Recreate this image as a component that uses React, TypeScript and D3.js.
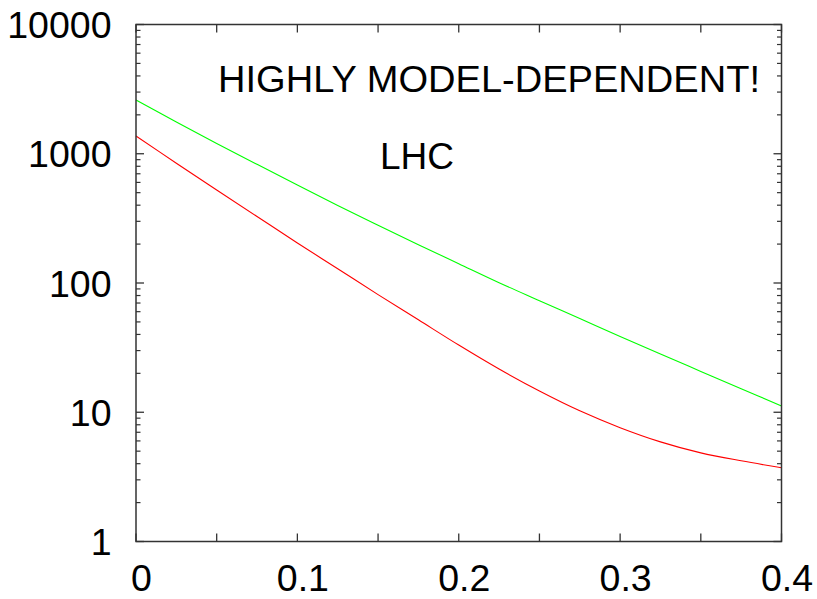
import React from "react";
import * as d3 from "d3";

const xValues = [0, 0.025, 0.05, 0.075, 0.1, 0.125, 0.15, 0.175, 0.2, 0.225, 0.25, 0.275, 0.3, 0.325, 0.35, 0.375, 0.4];
const greenValues = [2606, 1762, 1202, 828, 573, 398, 280, 198, 141, 100.5, 73.0, 53.1, 38.6, 28.2, 20.7, 15.2, 11.2];
const redValues = [1371, 845, 525, 327, 204, 129, 81.3, 51.9, 33.1, 21.6, 14.6, 10.26, 7.6, 5.9, 4.85, 4.21, 3.72];
const xTickLabels = ["0", "0.1", "0.2", "0.3", "0.4"];
const yTickLabels = ["1", "10", "100", "1000", "10000"];
const annotations = ["HIGHLY MODEL-DEPENDENT!", "LHC"];

const W = 817;
const H = 599;
const left = 136;
const right = 781.5;
const top = 24.5;
const bottom = 541.5;

export default function App() {
  const x = d3.scaleLinear().domain([0, 0.4]).range([left, right]);
  const y = d3.scaleLog().domain([1, 10000]).range([bottom, top]);
  const line = d3
    .line<number>()
    .x((_, i) => x(xValues[i]))
    .y((d) => y(d))
    .curve(d3.curveCatmullRom.alpha(0.5));

  const xTicks = d3.range(0, 9).map((i) => i * 0.05);
  const minorY: number[] = [];
  for (let e = 0; e < 4; e++) {
    for (let m = 2; m <= 9; m++) minorY.push(m * Math.pow(10, e));
  }
  const axisColor = "#333";
  const font = "'Liberation Sans', Arial, Helvetica, sans-serif";

  return (
    <svg width={W} height={H} style={{ position: "absolute", left: 0, top: 0, background: "#fff" }}>
      <rect x={0} y={0} width={W} height={H} fill="#fff" />
      <path d={line(greenValues) || ""} fill="none" stroke="#00ff00" strokeWidth={1.1} />
      <path d={line(redValues) || ""} fill="none" stroke="#ff0000" strokeWidth={1.1} />
      <rect x={left} y={top} width={right - left} height={bottom - top} fill="none" stroke={axisColor} strokeWidth={1.5} />
      {xTicks.map((t, i) => (
        <g key={"xt" + i}>
          <line x1={x(t)} x2={x(t)} y1={bottom} y2={bottom - 8} stroke={axisColor} strokeWidth={1.3} />
          <line x1={x(t)} x2={x(t)} y1={top} y2={top + 8} stroke={axisColor} strokeWidth={1.3} />
        </g>
      ))}
      {yTickLabels.map((l, i) => {
        const v = +l;
        return (
          <g key={"ym" + i}>
            <line x1={left} x2={left + 8} y1={y(v)} y2={y(v)} stroke={axisColor} strokeWidth={1.3} />
            <line x1={right} x2={right - 8} y1={y(v)} y2={y(v)} stroke={axisColor} strokeWidth={1.3} />
            <text x={111.5} y={y(v)} dy="0.36em" textAnchor="end" fontFamily={font} fontSize={37.5} fill="#000">
              {l}
            </text>
          </g>
        );
      })}
      {minorY.map((v, i) => (
        <g key={"yn" + i}>
          <line x1={left} x2={left + 4.5} y1={y(v)} y2={y(v)} stroke={axisColor} strokeWidth={1.2} />
          <line x1={right} x2={right - 4.5} y1={y(v)} y2={y(v)} stroke={axisColor} strokeWidth={1.2} />
        </g>
      ))}
      {xTickLabels.map((l, i) => (
        <text key={"xl" + i} x={x(+l) + 5.5} y={591} textAnchor="middle" fontFamily={font} fontSize={37.5} fill="#000">
          {l}
        </text>
      ))}
      <text x={218} y={92} fontFamily={font} fontSize={37} fill="#000" textLength={542} lengthAdjust="spacingAndGlyphs">
        {annotations[0]}
      </text>
      <text x={380} y={169} fontFamily={font} fontSize={37} fill="#000">
        {annotations[1]}
      </text>
    </svg>
  );
}
